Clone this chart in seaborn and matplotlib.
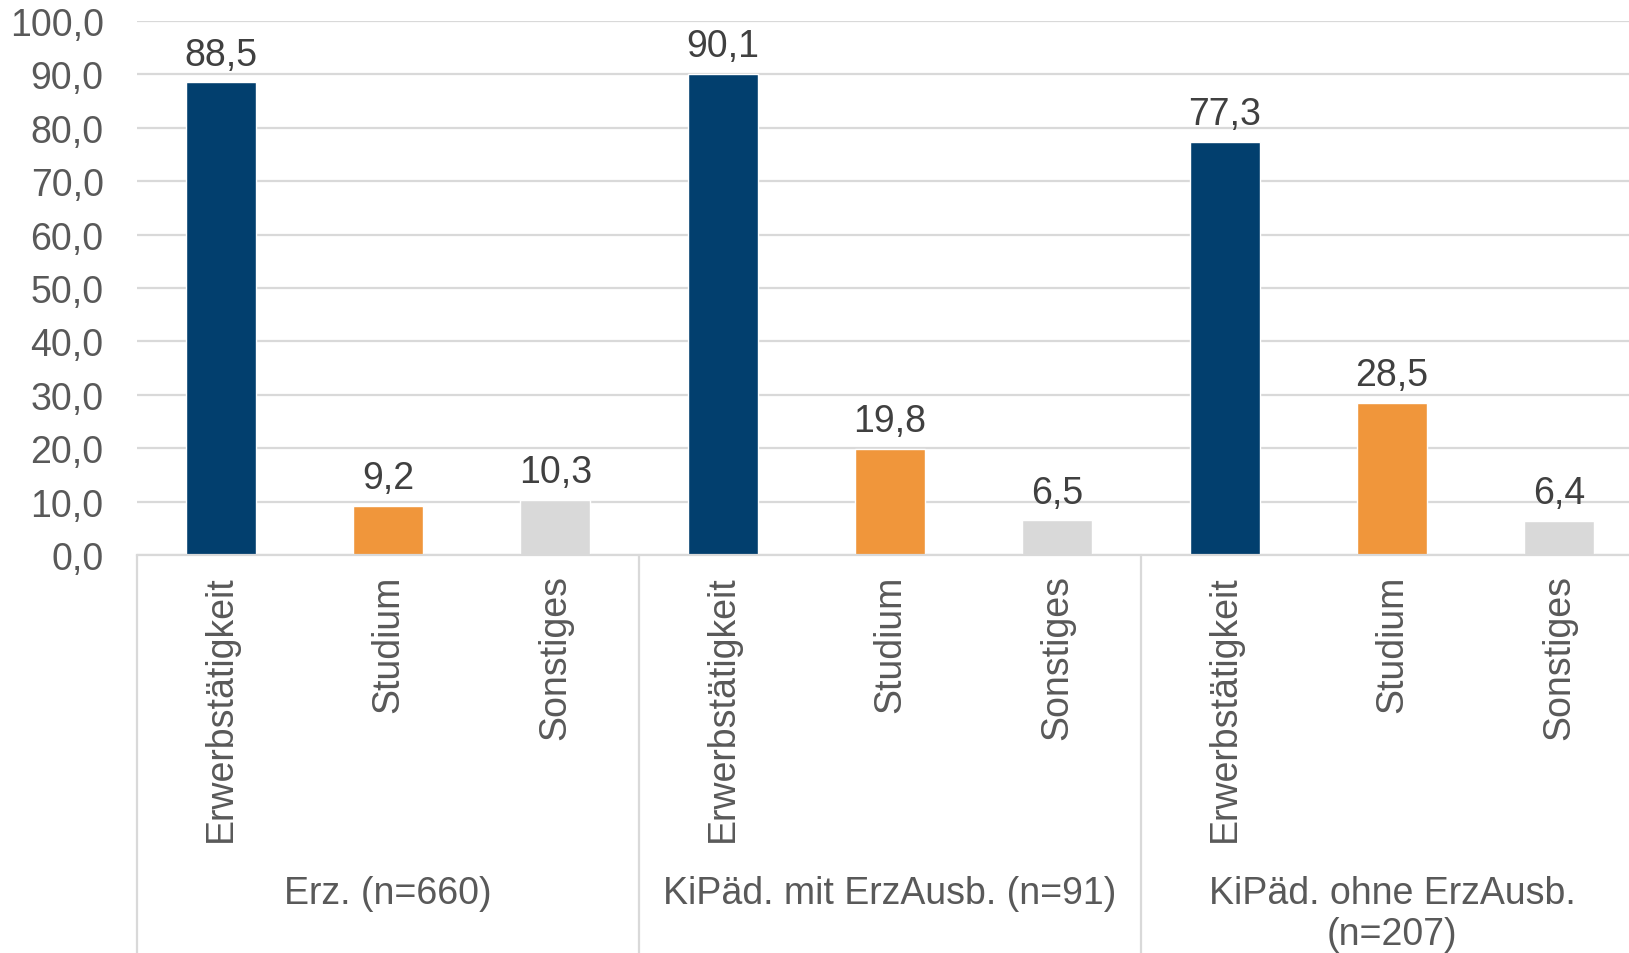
import matplotlib
matplotlib.use("Agg")
import matplotlib.pyplot as plt
import matplotlib.transforms as mtransforms
import pandas as pd
import seaborn as sns

# Data
groups = ["Erz. (n=660)", "KiPäd. mit ErzAusb. (n=91)", "KiPäd. ohne ErzAusb.\n(n=207)"]
categories = ["Erwerbstätigkeit", "Studium", "Sonstiges"]
erz = [88.5, 9.2, 10.3]
kipaed_mit = [90.1, 19.8, 6.5]
kipaed_ohne = [77.3, 28.5, 6.4]
y_ticks = [0, 10, 20, 30, 40, 50, 60, 70, 80, 90, 100]

colors = {"Erwerbstätigkeit": "#023f6e", "Studium": "#f0963b", "Sonstiges": "#d9d9d9"}

rows = []
for g, vals in zip(groups, [erz, kipaed_mit, kipaed_ohne]):
    for c, v in zip(categories, vals):
        rows.append({"slot": f"{g}|{c}", "group": g, "category": c, "value": v})
df = pd.DataFrame(rows)

sns.set_style("white")
plt.rcParams["font.family"] = ["Liberation Sans", "DejaVu Sans"]

fig = plt.figure(figsize=(16.29, 9.54), dpi=100)
# the plotting area runs slightly past the right edge of the figure
ax = fig.add_axes([137 / 1629, 1 - 556 / 954, 1506 / 1629, (556 - 22) / 954])

sns.barplot(data=df, x="slot", y="value", hue="category", palette=colors,
            dodge=False, width=0.42, ax=ax, legend=False, saturation=1)

ax.set_ylim(0, 100)
ax.set_xlim(-0.5, len(df) - 0.5)
ax.set_yticks(y_ticks)
ax.set_yticklabels([f"{t:.1f}".replace(".", ",") for t in y_ticks])
ax.set_xticks(range(len(df)))
ax.set_xticklabels(df["category"], rotation=90, va="top", ha="center")
ax.set_xlabel("")
ax.set_ylabel("")

grey_line = "#d9d9d9"
ax.yaxis.grid(True, color=grey_line, linewidth=1.6)
ax.set_axisbelow(True)
for side in ["top", "right", "left"]:
    ax.spines[side].set_visible(False)
ax.spines["bottom"].set_color(grey_line)
ax.spines["bottom"].set_linewidth(1.6)

ax.tick_params(axis="y", length=0, pad=24, labelsize=27, labelcolor="#595959")
ax.tick_params(axis="x", length=0, pad=14, labelsize=27, labelcolor="#595959")

# Value labels above bars
for i, v in enumerate(df["value"]):
    ax.annotate(f"{v:.1f}".replace(".", ","), xy=(i, v), xytext=(0, 20),
                textcoords="offset points", ha="center", va="center",
                fontsize=27, color="#404040")

# Group separators and group labels below the category labels
trans = mtransforms.blended_transform_factory(ax.transData, ax.transAxes)
for k in range(len(groups) + 1):
    x_left = k * 3 - 0.5
    ax.plot([x_left, x_left], [0, -0.75], transform=trans, color=grey_line,
            linewidth=1.6, clip_on=False)
for k, g in enumerate(groups):
    ax.text(k * 3 + 1, -0.60, g, transform=trans, ha="center", va="top",
            fontsize=27, color="#595959", linespacing=1.15)

fig.savefig("out.png", dpi=100)
